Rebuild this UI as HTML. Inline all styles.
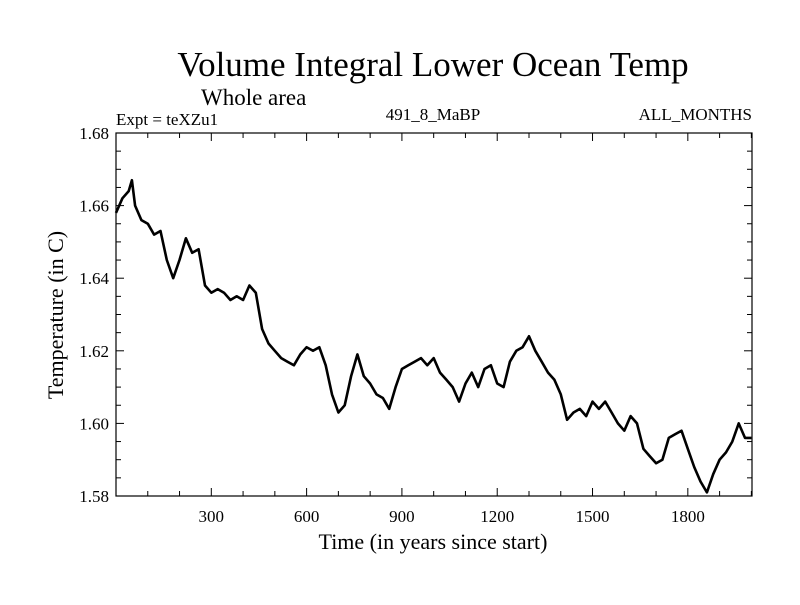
<!DOCTYPE html>
<html><head><meta charset="utf-8"><style>
body{margin:0;background:#fff}
svg text{font-family:"Liberation Serif",serif;fill:#000}
</style></head><body>
<svg id="chart" width="800" height="600" xmlns="http://www.w3.org/2000/svg">
<text x="433" y="76" font-size="35" text-anchor="middle">Volume Integral Lower Ocean Temp</text>
<text x="201" y="105" font-size="23">Whole area</text>
<text x="116" y="125" font-size="17">Expt = teXZu1</text>
<text x="433" y="120" font-size="17" text-anchor="middle">491_8_MaBP</text>
<text x="752" y="120" font-size="17" text-anchor="end">ALL_MONTHS</text>
<text x="433" y="549" font-size="22" text-anchor="middle">Time (in years since start)</text>
<text transform="translate(63,315) rotate(-90)" font-size="22" text-anchor="middle">Temperature (in C)</text>
<g id="axes"></g>
<path id="series" fill="none" stroke="#000" stroke-width="2.6" stroke-linejoin="round"></path>
<rect x="116" y="133" width="636" height="363" fill="none" stroke="#000" stroke-width="1.2"/>
</svg>
<script>
const years=[0,20,40,50,60,80,100,120,140,160,180,200,220,240,260,280,300,320,340,360,380,400,420,440,460,480,500,520,540,560,580,600,620,640,660,680,700,720,740,760,780,800,820,840,860,880,900,920,940,960,980,1000,1020,1040,1060,1080,1100,1120,1140,1160,1180,1200,1220,1240,1260,1280,1300,1320,1340,1360,1380,1400,1420,1440,1460,1480,1500,1520,1540,1560,1580,1600,1620,1640,1660,1680,1700,1720,1740,1760,1780,1800,1820,1840,1860,1880,1900,1920,1940,1960,1980,2000];
const temps=[1.658,1.662,1.664,1.667,1.660,1.656,1.655,1.652,1.653,1.645,1.640,1.645,1.651,1.647,1.648,1.638,1.636,1.637,1.636,1.634,1.635,1.634,1.638,1.636,1.626,1.622,1.620,1.618,1.617,1.616,1.619,1.621,1.620,1.621,1.616,1.608,1.603,1.605,1.613,1.619,1.613,1.611,1.608,1.607,1.604,1.610,1.615,1.616,1.617,1.618,1.616,1.618,1.614,1.612,1.610,1.606,1.611,1.614,1.610,1.615,1.616,1.611,1.610,1.617,1.620,1.621,1.624,1.620,1.617,1.614,1.612,1.608,1.601,1.603,1.604,1.602,1.606,1.604,1.606,1.603,1.600,1.598,1.602,1.600,1.593,1.591,1.589,1.590,1.596,1.597,1.598,1.593,1.588,1.584,1.581,1.586,1.590,1.592,1.595,1.600,1.596,1.596];
const xTicks=[300,600,900,1200,1500,1800];
const yTicks=[1.58,1.60,1.62,1.64,1.66,1.68];
const X0=116,X1=752,Y0=496,Y1=133,XMIN=0,XMAX=2002,YMIN=1.58,YMAX=1.68;
const sx=v=>X0+(v-XMIN)/(XMAX-XMIN)*(X1-X0);
const sy=v=>Y0-(v-YMIN)/(YMAX-YMIN)*(Y0-Y1);
const NS="http://www.w3.org/2000/svg";
const axes=document.getElementById('axes');
function line(x1,y1,x2,y2){const l=document.createElementNS(NS,'line');l.setAttribute('x1',x1);l.setAttribute('y1',y1);l.setAttribute('x2',x2);l.setAttribute('y2',y2);l.setAttribute('stroke','#000');l.setAttribute('stroke-width','1');


axes.appendChild(l);}
function txt(x,y,s,anchor){const t=document.createElementNS(NS,'text');t.setAttribute('x',x);t.setAttribute('y',y);t.setAttribute('font-size','17');t.setAttribute('text-anchor',anchor);t.textContent=s;


axes.appendChild(t);}
for(let v=100;v<=2000;v+=100){const x=sx(v);const major=v%300===0;const L=major?8:5;line(x,Y0,x,Y0-L);line(x,Y1,x,Y1+L);}
xTicks.forEach(v=>txt(sx(v),Y0+26,String(v),'middle'));
for(let i=0;i<=20;i++){const v=YMIN+i*0.005;const y=sy(v);const major=i%4===0;const L=major?8:5;line(X0,y,X0+L,y);line(X1,y,X1-L,y);}
yTicks.forEach(v=>txt(X0-7,sy(v)+6,v.toFixed(2),'end'));
document.getElementById('series').setAttribute('d',years.map((y,i)=>(i?'L':'M')+sx(y).toFixed(1)+','+sy(temps[i]).toFixed(1)).join(''));
</script>
</body></html>
